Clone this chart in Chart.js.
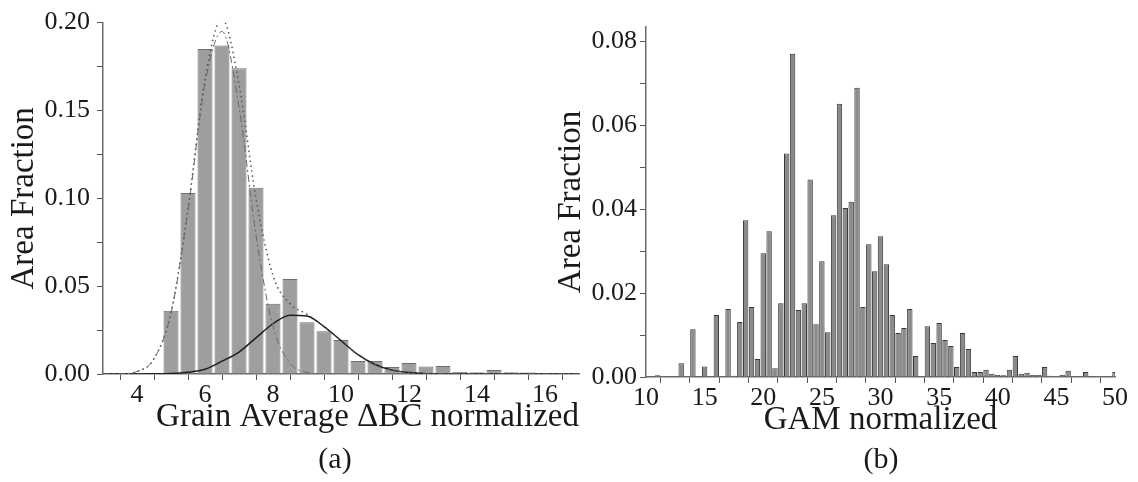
<!DOCTYPE html>
<html>
<head>
<meta charset="utf-8">
<script src="https://cdn.jsdelivr.net/npm/chart.js@4"></script>
<style>
    body { margin: 0; background: #fff; width: 1138px; height: 482px; position: relative; overflow: hidden; }
    #chartA { position: absolute; left: 0; top: 0; }
    #chartB { position: absolute; left: 550px; top: 0; }
    .sub { position: absolute; top: 441px; font: 30px "Liberation Serif", "Times New Roman", serif; color: #1a1a1a; width: 60px; text-align: center; }
</style>
</head>
<body>
<canvas id="chartA" width="590" height="445"></canvas>
<canvas id="chartB" width="588" height="445"></canvas>
<div class="sub" style="left: 305px;">(a)</div>
<div class="sub" style="left: 851px;">(b)</div>
<script>
// (a) histogram of grain average ΔBC, bin centres every 0.5
const binsA = [5.0, 5.5, 6.0, 6.5, 7.0, 7.5, 8.0, 8.5, 9.0, 9.5, 10.0, 10.5, 11.0, 11.5, 12.0, 12.5, 13.0, 13.5, 14.0, 14.5, 15.0, 15.5, 16.0, 16.5];
const fracA = [0.036, 0.103, 0.185, 0.187, 0.174, 0.106, 0.040, 0.054, 0.0295, 0.0244, 0.0193, 0.0074, 0.0074, 0.004, 0.0062, 0.0042, 0.0045, 0.0012, 0.001, 0.0023, 0.001, 0.0008, 0.0005, 0.0003];

// fitted curves
const curveX   = [3, 3.5, 4, 4.5, 5, 5.5, 6, 6.5, 7, 7.5, 8, 8.5, 9, 9.5, 10, 10.5, 11, 11.5, 12, 12.5, 13, 14, 15, 16, 17];
const fitPeak  = [0, 0, 0.0014, 0.0086, 0.0345, 0.093, 0.165, 0.195, 0.152, 0.079, 0.027, 0.0062, 0.0009, 0, 0, 0, 0, 0, 0, 0, 0, 0, 0, 0, 0];
const fitTail  = [0, 0, 0, 0.0001, 0.0003, 0.001, 0.0027, 0.0073, 0.0125, 0.0206, 0.0286, 0.0335, 0.033, 0.027, 0.019, 0.011, 0.0054, 0.0022, 0.0008, 0.0002, 0, 0, 0, 0, 0];
const fitSum   = [0, 0, 0.0014, 0.0087, 0.035, 0.094, 0.168, 0.202, 0.165, 0.10, 0.056, 0.040, 0.034, 0.027, 0.019, 0.011, 0.0054, 0.0022, 0.0008, 0.0002, 0, 0, 0, 0, 0];

// (b) histogram of GAM, bin centres every 0.5 from 10.5 to 50
const binsB = [10.5, 11, 11.5, 12, 12.5, 13, 13.5, 14, 14.5, 15, 15.5, 16, 16.5, 17, 17.5, 18, 18.5, 19, 19.5, 20,
               20.5, 21, 21.5, 22, 22.5, 23, 23.5, 24, 24.5, 25, 25.5, 26, 26.5, 27, 27.5, 28, 28.5, 29, 29.5, 30,
               30.5, 31, 31.5, 32, 32.5, 33, 33.5, 34, 34.5, 35, 35.5, 36, 36.5, 37, 37.5, 38, 38.5, 39, 39.5, 40,
               40.5, 41, 41.5, 42, 42.5, 43, 43.5, 44, 44.5, 45, 45.5, 46, 46.5, 47, 47.5, 48, 48.5, 49, 49.5, 50];
const fracB = [0, 0.0004, 0.0002, 0.0002, 0.0001, 0.0033, 0, 0.0114, 0, 0.0025, 0, 0.0148, 0, 0.0162, 0.0003, 0.0131, 0.0374, 0.0167, 0.0043, 0.0295,
               0.0348, 0.0021, 0.0176, 0.0533, 0.0771, 0.016, 0.0176, 0.0471, 0.0126, 0.0276, 0.0107, 0.0386, 0.0652, 0.0403, 0.0418, 0.069, 0.0167, 0.0317, 0.0252, 0.0336,
               0.0269, 0.0148, 0.0105, 0.0117, 0.0162, 0.005, 0, 0.0121, 0.0081, 0.0129, 0.0088, 0.0074, 0.0024, 0.0105, 0.0067, 0.0012, 0.0012, 0.0017, 0.0008, 0.0005,
               0.0004, 0.0017, 0.005, 0.0008, 0.001, 0.0005, 0.0005, 0.0024, 0.0003, 0.0001, 0.0005, 0.0015, 0, 0.0002, 0.0012, 0, 0.0002, 0.0002, 0, 0.0012];

const xTicksA = [4, 6, 8, 10, 12, 14, 16];
const xTicksB = [10, 15, 20, 25, 30, 35, 40, 45, 50];

document.addEventListener("DOMContentLoaded", function () {
    const serif = "'Liberation Serif', 'Times New Roman', serif";
    const ink = "#1a1a1a";

    function pts(xs, ys) {
        return xs.map((x, i) => ({ x: x, y: ys[i] }));
    }

    function axisStyle() {
        return {
            grid: { display: true, drawOnChartArea: false, drawTicks: true, tickLength: 6, color: "#555", lineWidth: 1 },
            border: { display: true, color: "#6a6a6a", width: 1.5 }
        };
    }

    function curve(ys, color, width, dash) {
        return {
            type: "line",
            data: pts(curveX, ys),
            borderColor: color,
            borderWidth: width,
            borderDash: dash,
            pointRadius: 0,
            fill: false,
            cubicInterpolationMode: "monotone",
            order: 1
        };
    }

    // left chart
    new Chart(document.getElementById("chartA").getContext("2d"), {
        type: "bar",
        data: {
            datasets: [
                {
                    data: pts(binsA, fracA),
                    backgroundColor: "#9e9e9e",
                    borderColor: "#6e6e6e",
                    borderWidth: 1,
                    barPercentage: 0.88,
                    categoryPercentage: 1,
                    order: 3
                },
                curve(fitPeak, "#6a6a6a", 1, [7, 3, 2, 3]),
                curve(fitSum, "#555", 1.5, [1.5, 3.5]),
                curve(fitTail, "#1e1e1e", 1.5, [])
            ]
        },
        options: {
            responsive: false,
            animation: false,
            layout: { padding: { top: 22, right: 11, left: 0, bottom: 0 } },
            plugins: { legend: { display: false }, tooltip: { enabled: false } },
            scales: {
                x: Object.assign(axisStyle(), {
                    type: "linear", min: 3, max: 17, offset: false,
                    afterFit: function (s) { s.height = 71; },
                    ticks: {
                        stepSize: 1, autoSkip: false, maxRotation: 0, padding: 0,
                        color: ink, font: { family: serif, size: 26 },
                        callback: v => xTicksA.includes(v) ? String(v) : ""
                    },
                    title: {
                        display: true, text: "Grain Average ΔBC normalized", align: "end",
                        color: ink, font: { family: serif, size: 33 }, padding: { top: 0, bottom: 8 }
                    }
                }),
                y: Object.assign(axisStyle(), {
                    min: 0, max: 0.2,
                    afterFit: function (s) { s.width = 103; },
                    ticks: {
                        stepSize: 0.025, autoSkip: false, padding: 7,
                        color: ink, font: { family: serif, size: 26 },
                        callback: v => Math.round(v * 40) % 2 === 0 ? v.toFixed(2) : ""
                    },
                    title: {
                        display: true, text: "Area Fraction",
                        color: ink, font: { family: serif, size: 33 }, padding: { top: 5, bottom: 0 }
                    }
                })
            }
        }
    });

    // right chart
    new Chart(document.getElementById("chartB").getContext("2d"), {
        type: "bar",
        data: {
            datasets: [{
                data: pts(binsB, fracB),
                backgroundColor: "#8a8a8a",
                borderColor: "#383838",
                borderWidth: 1,
                barPercentage: 0.92,
                categoryPercentage: 1
            }]
        },
        options: {
            responsive: false,
            animation: false,
            layout: { padding: { top: 27, right: 23, left: 0, bottom: 0 } },
            plugins: { legend: { display: false }, tooltip: { enabled: false } },
            scales: {
                x: Object.assign(axisStyle(), {
                    type: "linear", min: 10, max: 50, offset: false,
                    afterFit: function (s) { s.height = 68; },
                    ticks: {
                        stepSize: 2.5, autoSkip: false, maxRotation: 0, padding: 0,
                        color: ink, font: { family: serif, size: 26 },
                        callback: v => xTicksB.includes(v) ? String(v) : ""
                    },
                    title: {
                        display: true, text: "GAM normalized",
                        color: ink, font: { family: serif, size: 33 }, padding: { top: 0, bottom: 5 }
                    }
                }),
                y: Object.assign(axisStyle(), {
                    min: 0, max: 0.0835,
                    afterFit: function (s) { s.width = 96; },
                    ticks: {
                        stepSize: 0.01, autoSkip: false, padding: 3, includeBounds: false,
                        color: ink, font: { family: serif, size: 26 },
                        callback: v => Math.round(v * 100) % 2 === 0 ? v.toFixed(2) : ""
                    },
                    title: {
                        display: true, text: "Area Fraction",
                        color: ink, font: { family: serif, size: 33 }, padding: { top: 2, bottom: 0 }
                    }
                })
            }
        }
    });
});
</script>
</body>
</html>
